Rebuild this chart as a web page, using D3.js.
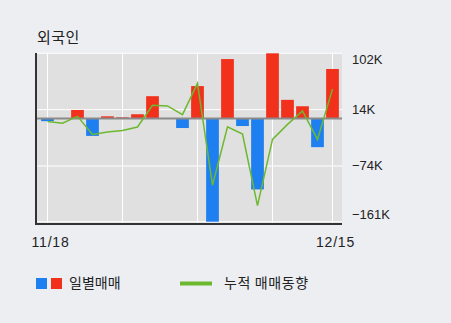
<!DOCTYPE html>
<html>
<head>
<meta charset="utf-8">
<script src="https://cdn.jsdelivr.net/npm/d3@7"></script>
<style>
  body { margin: 0; background: #eceef2; }
  svg { display: block; }
  text { font-family: "Liberation Sans", Arial, "Noto Sans CJK KR", sans-serif; fill: #222; }
  .kr { font-family: "Noto Sans CJK KR", sans-serif; }
</style>
</head>
<body>
<svg id="chart" width="451" height="323"></svg>
<script>
// daily foreign net trading, thousands of shares
const dates = ["11/18","11/19","11/20","11/23","11/24","11/25","11/26","11/27","11/30","12/01",
               "12/02","12/03","12/04","12/07","12/08","12/09","12/10","12/11","12/14","12/15"];
const daily = [-4, 0, 13.5, -27, 3.6, 2, 6.8, 35, 0, -14.7,
               50.8, -161, 93, -11.6, -110.6, 102, 29.3, 19.3, -44.6, 77.5];
const trend = [-4.7, -7.3, 3.6, -24.7, -21, -18.4, -13.1, 20.9, 19.8, 6.3,
               55, -104, -12.8, -24, -135.8, -32.5, -9, 11.9, -32.5, 46];
const yTicks = [102, 14, -74, -161];
const gridIdx = [0, 5, 10, 15, 19];
const xLabels = ["11/18", "12/15"];

const svg = d3.select("#chart");
const plot = { left: 36, right: 342, top: 53, bottom: 224 };

const x = d3.scaleBand().domain(dates).range([40, 340]).paddingInner(0.15).paddingOuter(0.075);
const y = d3.scaleLinear().domain([-161, 102]).range([221.7, 53.3]);

// title
svg.append("text").attr("class", "kr").attr("x", 37).attr("y", 43)
  .attr("font-size", 15).attr("letter-spacing", 0.5).text("외국인");

// plot background
svg.append("rect").attr("x", plot.left).attr("y", plot.top)
  .attr("width", plot.right - plot.left).attr("height", plot.bottom - plot.top)
  .attr("fill", "#e0e0e0");

// grid
svg.append("g").selectAll("line").data(yTicks).join("line")
  .attr("x1", plot.left).attr("x2", plot.right)
  .attr("y1", d => y(d)).attr("y2", d => y(d))
  .attr("stroke", "#fff").attr("stroke-width", 1);
svg.append("g").selectAll("line").data(gridIdx).join("line")
  .attr("x1", i => x(dates[i]) + x.bandwidth() / 2).attr("x2", i => x(dates[i]) + x.bandwidth() / 2)
  .attr("y1", plot.top).attr("y2", plot.bottom)
  .attr("stroke", "#fff").attr("stroke-width", 1);

// bars
svg.append("g").selectAll("rect").data(daily).join("rect")
  .attr("x", (d, i) => x(dates[i]))
  .attr("width", x.bandwidth())
  .attr("y", d => d >= 0 ? y(d) : y(0))
  .attr("height", d => Math.abs(y(d) - y(0)))
  .attr("fill", d => d >= 0 ? "#f2311c" : "#1e7ff0");

// zero line
svg.append("line").attr("x1", plot.left).attr("x2", plot.right)
  .attr("y1", y(0)).attr("y2", y(0))
  .attr("stroke", "#8a8a8a").attr("stroke-width", 2);

// trend line
const line = d3.line()
  .x((d, i) => x(dates[i]) + x.bandwidth() / 2)
  .y(d => y(d));
svg.append("path").datum(trend).attr("d", line)
  .attr("fill", "none").attr("stroke", "#6cb92f").attr("stroke-width", 1.5);

// axes lines
svg.append("line").attr("x1", plot.left).attr("x2", plot.left)
  .attr("y1", plot.top).attr("y2", plot.bottom + 1)
  .attr("stroke", "#333").attr("stroke-width", 2);
svg.append("line").attr("x1", plot.left).attr("x2", plot.right)
  .attr("y1", plot.bottom).attr("y2", plot.bottom)
  .attr("stroke", "#333").attr("stroke-width", 2);

// y labels
const yLabY = { 102: 64, 14: 114, "-74": 170, "-161": 219 };
svg.append("g").selectAll("text").data(yTicks).join("text")
  .attr("x", 352).attr("y", d => yLabY[d])
  .attr("font-size", 13)
  .text(d => (d < 0 ? "\u2212" + Math.abs(d) : d) + "K");

// x labels
svg.append("g").selectAll("text").data(xLabels).join("text")
  .attr("x", d => x(d) + x.bandwidth() / 2 + 3)
  .attr("y", 247).attr("text-anchor", "middle").attr("font-size", 14)
  .attr("letter-spacing", 0.8)
  .text(d => d);

// legend
svg.append("rect").attr("x", 36).attr("y", 278).attr("width", 11).attr("height", 11).attr("fill", "#1e7ff0");
svg.append("rect").attr("x", 51).attr("y", 278).attr("width", 11).attr("height", 11).attr("fill", "#f2311c");
svg.append("text").attr("class", "kr").attr("x", 69).attr("y", 288).attr("font-size", 14).text("일별매매");
svg.append("line").attr("x1", 180).attr("x2", 212).attr("y1", 283.5).attr("y2", 283.5)
  .attr("stroke", "#6cb92f").attr("stroke-width", 4);
svg.append("text").attr("class", "kr").attr("x", 224).attr("y", 288).attr("font-size", 14)
  .attr("letter-spacing", 0.6).text("누적 매매동향");
</script>
</body>
</html>
